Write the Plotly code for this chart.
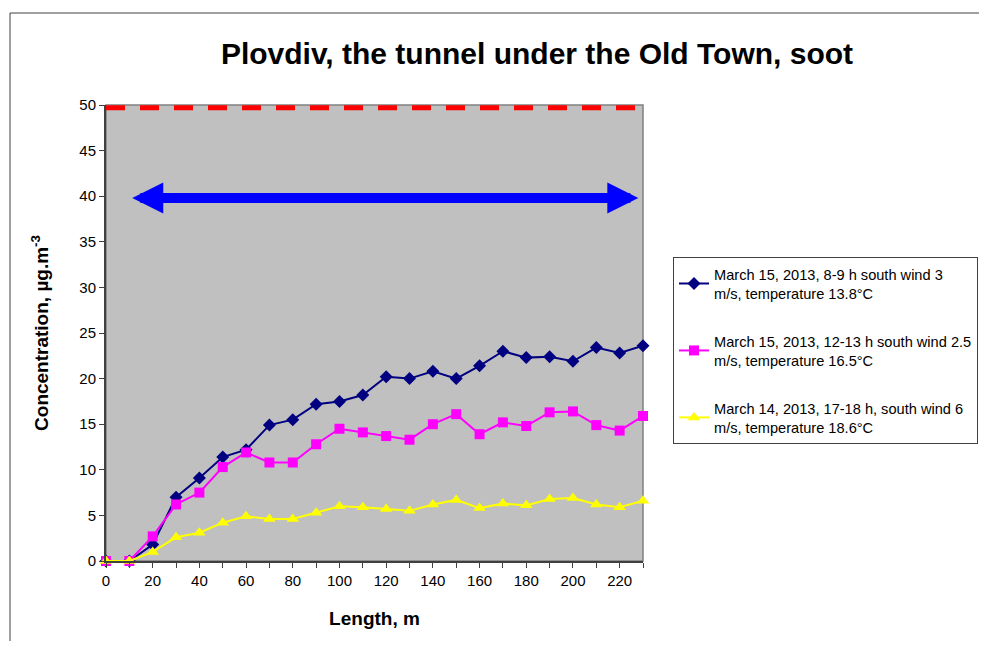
import plotly.graph_objects as go

# distance along the tunnel, m
length_m = [0, 10, 20, 30, 40, 50, 60, 70, 80, 90, 100, 110, 120, 130, 140, 150,
            160, 170, 180, 190, 200, 210, 220, 230]

# soot concentration, ug/m3
soot_mar15_morning = [0, 0, 1.8, 7.0, 9.1, 11.4, 12.2, 14.9, 15.5, 17.2, 17.5, 18.2,
                      20.2, 20.0, 20.8, 20.0, 21.4, 23.0, 22.3, 22.4, 21.9, 23.4, 22.8, 23.6]
soot_mar15_noon = [0, 0, 2.7, 6.2, 7.5, 10.3, 11.9, 10.8, 10.8, 12.8, 14.5, 14.1,
                   13.7, 13.3, 15.0, 16.1, 13.9, 15.2, 14.8, 16.3, 16.4, 14.9, 14.3, 15.9]
soot_mar14_evening = [0, 0, 1.0, 2.6, 3.1, 4.2, 4.9, 4.6, 4.6, 5.3, 6.0, 5.9,
                      5.7, 5.5, 6.2, 6.7, 5.8, 6.3, 6.1, 6.8, 6.9, 6.2, 5.9, 6.6]

series_names = [
    "March 15, 2013, 8-9 h south wind 3<br>m/s, temperature 13.8°C",
    "March 15, 2013, 12-13 h south wind 2.5<br>m/s, temperature 16.5°C",
    "March 14, 2013, 17-18 h, south wind 6<br>m/s, temperature 18.6°C",
]

limit_value = 49.7      # red dashed limit line
arrow_level = 39.8      # blue double arrow
arrow_from, arrow_to = 10.6, 228

FONT = "Liberation Sans, Arial, sans-serif"

# the page body has an 8px margin, so the figure is a bit smaller than the window
W, H = 971, 633
OFF = 8
PLOT_L, PLOT_R, PLOT_T, PLOT_B = 106, 643, 105, 561   # plot area in window pixels

fig = go.Figure()

styles = [
    ("#000080", "diamond", 10),
    ("#FF00FF", "square", 10),
    ("#FFFF00", "triangle-up", 11),
]
for i, (vals, name, (color, symbol, size)) in enumerate(
        zip([soot_mar15_morning, soot_mar15_noon, soot_mar14_evening], series_names, styles)):
    fig.add_trace(go.Scatter(
        x=length_m, y=vals, name=name, mode='lines+markers',
        line=dict(color=color, width=2),
        marker=dict(symbol=symbol, size=size, color=color),
        legendgroup=str(i), cliponaxis=False,
    ))

# red dashed limit line across the plot
fig.add_shape(type='line', xref='paper', yref='y', x0=0, x1=1,
              y0=limit_value, y1=limit_value,
              line=dict(color='#FF0000', width=5, dash='19px,15px'))

# blue double-headed arrow
fig.add_annotation(x=arrow_to, y=arrow_level, ax=arrow_from, ay=arrow_level,
                   xref='x', yref='y', axref='x', ayref='y', text='',
                   showarrow=True, arrowhead=2, startarrowhead=2,
                   arrowside='end+start', arrowwidth=10, arrowsize=0.62,
                   startarrowsize=0.62, arrowcolor='#0000FF')

pw = PLOT_R - PLOT_L
ph = PLOT_B - PLOT_T

# plot area frame and outer chart frame
fig.add_shape(type='rect', xref='paper', yref='paper', x0=0, x1=1, y0=0, y1=1,
              line=dict(color='#808080', width=1.5), layer='below')
fig.add_shape(type='rect', xref='paper', yref='paper',
              x0=(10 - PLOT_L) / pw, x1=1.8, y0=-0.4, y1=(PLOT_B - 13) / ph,
              line=dict(color='#404040', width=1))

fig.update_layout(
    width=W, height=H,
    margin=dict(l=PLOT_L - OFF, r=W - (PLOT_R - OFF), t=PLOT_T - OFF, b=H - (PLOT_B - OFF),
                autoexpand=False),
    paper_bgcolor='white', plot_bgcolor='#C0C0C0',
    font=dict(family=FONT, color='black', size=15),
    title=dict(text="<b>Plovdiv, the tunnel under the Old Town, soot</b>",
               x=(537 - OFF) / W, xref='container', xanchor='center',
               y=1 - (53 - OFF) / H, yref='container', yanchor='middle',
               font=dict(size=30, family=FONT)),
    xaxis=dict(range=[0, 230], dtick=20, tick0=0, ticks='outside', ticklen=5,
               tickcolor='#404040', showgrid=False, zeroline=False,
               showline=True, linecolor='#404040', linewidth=2,
               minor=dict(dtick=10, ticks='outside', ticklen=5, tickcolor='#404040'),
               title=dict(text="<b>Length, m</b>", font=dict(size=19), standoff=24)),
    yaxis=dict(range=[0, 50], dtick=5, ticks='outside', ticklen=5,
               tickcolor='#404040', showgrid=False, zeroline=False,
               showline=True, linecolor='#404040', linewidth=2,
               title=dict(text="<b>Concentration, µg.m<sup>-3</sup></b>",
                          font=dict(size=19), standoff=26)),
    legend=dict(x=(673 - PLOT_L) / pw, y=(PLOT_B - 257) / ph, xanchor='left', yanchor='top',
                bordercolor='#404040', borderwidth=1, bgcolor='white',
                font=dict(size=14.6, family=FONT), tracegroupgap=26,
                itemwidth=30),
    showlegend=True,
)

fig.write_html("out.html")
